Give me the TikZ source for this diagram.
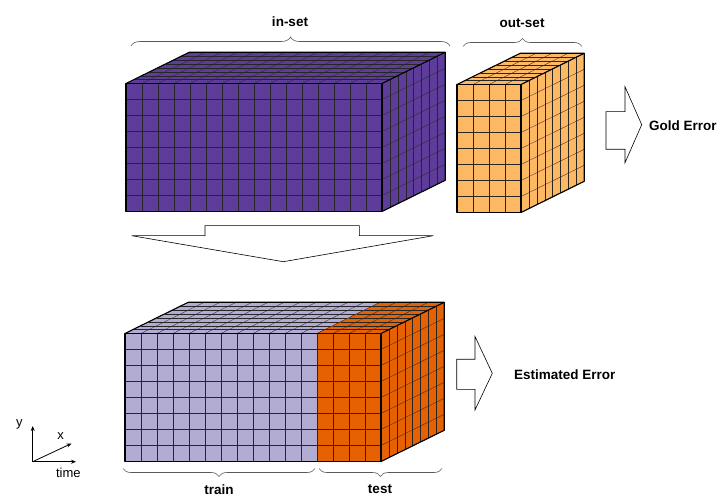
\documentclass[tikz,border=0pt]{standalone}
\usepackage{fontspec}
\setmainfont{Liberation Sans}
\usetikzlibrary{decorations.pathreplacing,arrows.meta}
\definecolor{pdark}{HTML}{5E3C99}
\definecolor{plight}{HTML}{B2ABD2}
\definecolor{olight}{HTML}{FDB863}
\definecolor{odark}{HTML}{E66101}
\def\cs{16}
\def\ddx{7.9}
\def\ddy{-3.9}
\newcommand\frontface[5]{%
  \fill[#5] (#1,#2) rectangle ++({#3*\cs},{#4*\cs});
  \foreach \i in {0,...,#3} \draw[gridline] ({#1+\i*\cs},#2) -- ++(0,{#4*\cs});
  \foreach \j in {0,...,#4} \draw[gridline] (#1,{#2+\j*\cs}) -- ++({#3*\cs},0);
}
\newcommand\topface[5]{%
  \fill[#5] (#1,#2) -- ++({#3*\cs},0) -- ++({#4*\ddx},{#4*(\ddy)}) -- ++({-(#3)*\cs},0) -- cycle;
  \foreach \i in {0,...,#3} \draw[gridline] ({#1+\i*\cs},#2) -- ++({#4*\ddx},{#4*(\ddy)});
  \foreach \j in {0,...,#4} \draw[gridline] ({#1+\j*\ddx},{#2+\j*(\ddy)}) -- ++({#3*\cs},0);
}
\newcommand\sideface[5]{%
  \fill[#5] (#1,#2) -- ++(0,{#3*\cs}) -- ++({#4*\ddx},{#4*(\ddy)}) -- ++(0,{-(#3)*\cs}) -- cycle;
  \foreach \j in {0,...,#4} \draw[gridline] ({#1+\j*\ddx},{#2+\j*(\ddy)}) -- ++(0,{#3*\cs});
  \foreach \k in {0,...,#3} \draw[gridline] (#1,{#2+\k*\cs}) -- ++({#4*\ddx},{#4*(\ddy)});
}
\newcommand\cubeoutline[5]{%
  \draw[outl] (#1,#2) rectangle ++({#3*\cs},{#4*\cs});
  \draw[outl] (#1,#2) -- ++({#5*\ddx},{#5*(\ddy)}) -- ++({#3*\cs},0) -- ++(0,{#4*\cs}) -- ++({-(#5)*\ddx},{-(#5)*(\ddy)});
  \draw[outl] ({#1+#3*\cs},#2) -- ++({#5*\ddx},{#5*(\ddy)});
}
\begin{document}
\begin{tikzpicture}[x=1pt,y=-1pt,
  gridline/.style={draw=black!85,line width=0.3pt},
  outl/.style={draw=black,line width=1.1pt,line join=round},
  bracestyle/.style={draw=black!65,line width=0.6pt,decorate,decoration={brace,amplitude=#1}},
  blockarrow/.style={draw=black,fill=white,line width=0.6pt,line join=miter},
  lbl/.style={font=\bfseries\fontsize{13.5}{15}\selectfont,inner sep=0pt},
  axlbl/.style={font=\fontsize{13}{15}\selectfont,inner sep=0pt},
  axarrow/.style={draw=black,line width=0.8pt,-{Stealth[length=5pt,width=4pt]}}]
\useasboundingbox (0,0) rectangle (721,497);

% in-set cube
\frontface{126}{83.5}{16}{8}{pdark}
\topface{126}{83.5}{16}{8}{pdark}
\sideface{382}{83.5}{8}{8}{pdark}
\cubeoutline{126}{83.5}{16}{8}{8}

% out-set cube
\frontface{457}{84.5}{4}{8}{olight}
\topface{457}{84.5}{4}{8}{olight}
\sideface{521}{84.5}{8}{8}{olight}
\cubeoutline{457}{84.5}{4}{8}{8}

% train/test cube
\frontface{125}{333.5}{12}{8}{plight}
\topface{125}{333.5}{12}{8}{plight}
\frontface{317}{333.5}{4}{8}{odark}
\topface{317}{333.5}{4}{8}{odark}
\sideface{381}{333.5}{8}{8}{odark}
\cubeoutline{125}{333.5}{16}{8}{8}

% braces
\coordinate (inL) at (131,46); \coordinate (inR) at (450,46);
\coordinate (outL) at (463,46.5); \coordinate (outR) at (582,46.5);
\coordinate (trL) at (123,468.5); \coordinate (trR) at (315,468.5);
\coordinate (teL) at (319,468.5); \coordinate (teR) at (442,468.5);
\draw[bracestyle=9pt] (inL) -- (inR);
\draw[bracestyle=8pt] (outL) -- (outR);
\draw[bracestyle=8pt] (trR) -- (trL);
\draw[bracestyle=8pt] (teR) -- (teL);

\node[lbl] (inset) at (290,22) {in-set};
\node[lbl] (outset) at (522,23) {out-set};
\node[lbl] (train) at (219,489.5) {train};
\node[lbl] (test) at (380,489.5) {test};

% block arrows
\draw[blockarrow] (131.7,235.7) -- (205,235.7) -- (205,225.7) -- (359.3,225.7) -- (359.3,235.7) -- (433.3,235.7) -- (283.3,261.7) -- cycle;
\draw[blockarrow] (606,111.7) -- (625,111.7) -- (625,86.7) -- (641.7,124.7) -- (625,162.7) -- (625,149.3) -- (606,149.3) -- cycle;
\draw[blockarrow] (456.7,359.3) -- (475,359.3) -- (475,336.5) -- (492.3,373.3) -- (475,410) -- (475,389.3) -- (456.7,389.3) -- cycle;

\node[lbl,anchor=west] (gold) at (649,126) {Gold Error};
\node[lbl,anchor=west] (est) at (514,375) {Estimated Error};

% axes
\coordinate (O) at (32.7,461.7);
\coordinate (Y) at (32.7,426);
\coordinate (T) at (76,461.7);
\coordinate (X) at (71.5,443.5);
\draw[axarrow] (O) -- (Y);
\draw[axarrow] (O) -- (T);
\draw[axarrow] (O) -- (X);
\node[axlbl] (ylab) at (19.5,424.5) {y};
\node[axlbl] (xlab) at (60.7,436) {x};
\node[axlbl] (timelab) at (68.3,472.5) {time};
\end{tikzpicture}
\end{document}
